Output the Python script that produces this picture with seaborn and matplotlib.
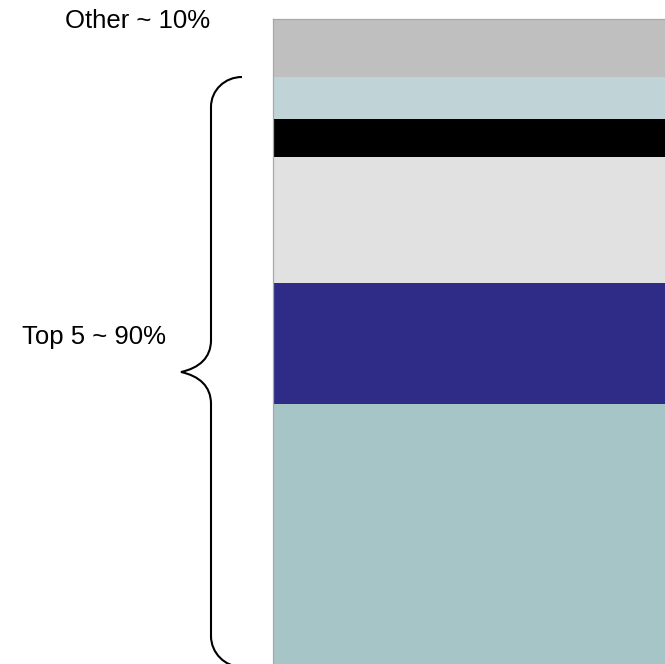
import numpy as np
import pandas as pd
import matplotlib
matplotlib.use("Agg")
import matplotlib.pyplot as plt
from matplotlib.path import Path
from matplotlib.patches import PathPatch
import seaborn as sns

# Share of each segment, bottom to top (percent)
segments = ["Top 1", "Top 2", "Top 3", "Top 4", "Top 5", "Other"]
shares = [40.3, 18.7, 19.5, 6.0, 6.5, 9.0]
colors = ["#A6C5C7", "#2E2C86", "#E1E1E1", "#000000", "#C0D4D8", "#BFBFBF"]
top_label = "Other ~ 10%"
group_label = "Top 5 ~ 90%"

sns.set_theme(style="white")
plt.rcParams["font.family"] = ["Liberation Sans", "DejaVu Sans"]

W, H = 665, 664
fig = plt.figure(figsize=(W / 100, H / 100), dpi=100)
ax = fig.add_axes([273 / W, 0.0, 1 - 273 / W, 1 - 18.5 / H])

df = pd.DataFrame({"segment": segments, "share": shares, "color": colors})
df["top"] = df["share"].cumsum()

# Stacked column: draw cumulative tops from the highest down so each layer covers the next
for _, row in df.iloc[::-1].iterrows():
    sns.barplot(x=[0], y=[row["top"]], color=row["color"], saturation=1,
                width=1.0, linewidth=0, ax=ax)

ax.set_xlim(-0.5, 0.5)
ax.set_ylim(0, df["top"].iloc[-1])
ax.set_xticks([])
ax.set_yticks([])
ax.set_xlabel("")
ax.set_ylabel("")
for side in ["right", "bottom"]:
    ax.spines[side].set_visible(False)
for side in ["top", "left"]:
    ax.spines[side].set_color("#A8A8A8")
    ax.spines[side].set_linewidth(0.9)


def px(x, y):
    return (x / W, 1 - y / H)


# Curly brace spanning the top five segments
verts_px = [
    (242, 77), (225, 77), (211, 90), (211, 107),
    (211, 340),
    (211, 358), (199, 368), (181, 372),
    (199, 376), (211, 386), (211, 404),
    (211, 636),
    (211, 653), (225, 667), (242, 667),
]
codes = [Path.MOVETO, Path.CURVE4, Path.CURVE4, Path.CURVE4,
         Path.LINETO,
         Path.CURVE4, Path.CURVE4, Path.CURVE4,
         Path.CURVE4, Path.CURVE4, Path.CURVE4,
         Path.LINETO,
         Path.CURVE4, Path.CURVE4, Path.CURVE4]
brace = Path([px(*v) for v in verts_px], codes)
fig.add_artist(PathPatch(brace, transform=fig.transFigure, facecolor="none",
                         edgecolor="black", linewidth=1.5, clip_on=False))

fig.text(*px(138, 21), top_label, ha="center", va="center", fontsize=18.5, color="black")
fig.text(*px(94, 337), group_label, ha="center", va="center", fontsize=18.5, color="black")

fig.savefig("out.png", dpi=100)
